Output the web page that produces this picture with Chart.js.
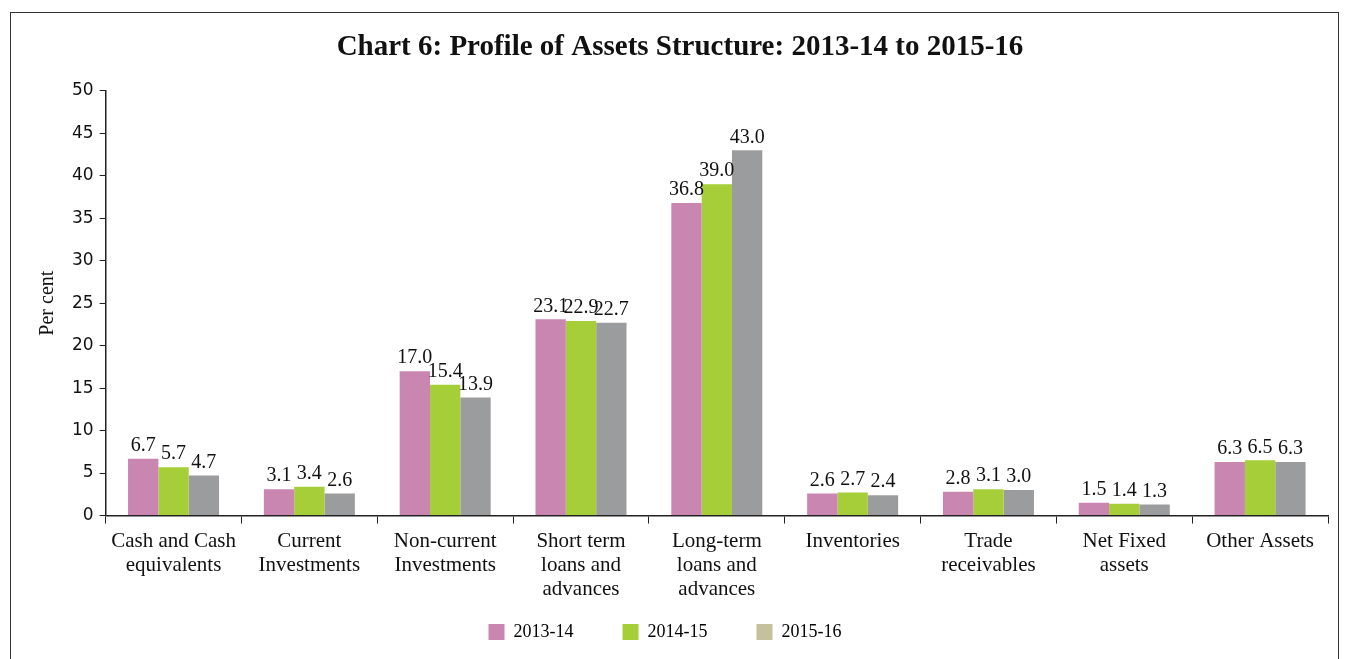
<!DOCTYPE html>
<html>
<head>
<meta charset="utf-8">
<script src="https://cdn.jsdelivr.net/npm/chart.js@4.4.1/dist/chart.umd.min.js"></script>
<style>
  html, body { margin: 0; padding: 0; background: #fff; }
  body { width: 1348px; height: 659px; overflow: hidden; position: relative; }
  .frame {
    position: absolute; left: 10px; top: 12px; width: 1329px; height: 660px;
    border: 1.5px solid #333; box-sizing: border-box;
  }
  #wrap { position: absolute; left: 0; top: 0; width: 1348px; height: 659px; }
</style>
</head>
<body>
<div class="frame"></div>
<div id="wrap"><canvas id="chart"></canvas></div>
<script>
// Categories and series
const categories = [
    ['Cash and Cash', 'equivalents'],
    ['Current', 'Investments'],
    ['Non-current', 'Investments'],
    ['Short term', 'loans and', 'advances'],
    ['Long-term', 'loans and', 'advances'],
    ['Inventories'],
    ['Trade', 'receivables'],
    ['Net Fixed', 'assets'],
    ['Other Assets']
];
const seriesNames = ['2013-14', '2014-15', '2015-16'];
const values2013 = [6.7, 3.1, 17.0, 23.1, 36.8, 2.6, 2.8, 1.5, 6.3];
const values2014 = [5.7, 3.4, 15.4, 22.9, 39.0, 2.7, 3.1, 1.4, 6.5];
const values2015 = [4.7, 2.6, 13.9, 22.7, 43.0, 2.4, 3.0, 1.3, 6.3];
const barColors = ['#C886B0', '#A6CE39', '#9B9C9E'];
const legendColors = ['#C886B0', '#A6CE39', '#C4C19C'];

const serif = '"Liberation Serif", "DejaVu Serif", serif';
const sans = '"DejaVu Sans", "Liberation Sans", sans-serif';

// Draw the value above each bar
const valueLabels = {
    id: 'valueLabels',
    afterDatasetsDraw(chart) {
        const ctx = chart.ctx;
        ctx.save();
        ctx.font = '20px ' + serif;
        ctx.fillStyle = '#111';
        ctx.textAlign = 'center';
        ctx.textBaseline = 'bottom';
        chart.data.datasets.forEach((ds, i) => {
            chart.getDatasetMeta(i).data.forEach((bar, j) => {
                ctx.fillText(ds.data[j].toFixed(1), bar.x, bar.y - 3);
            });
        });
        ctx.restore();
    }
};

// Let the category labels hang below their (shortened) box, nudge the legend left
const layoutTweaks = {
    id: 'layoutTweaks',
    afterLayout(chart) {
        chart.scales.x.bottom = chart.height;
        chart.legend.left -= 15;
        chart.legend.right -= 15;
    }
};

new Chart(document.getElementById('chart'), {
    type: 'bar',
    data: {
        labels: categories,
        datasets: [values2013, values2014, values2015].map((d, i) => ({
            label: seriesNames[i],
            data: d,
            backgroundColor: barColors[i],
            borderWidth: 0,
            categoryPercentage: 0.67,
            barPercentage: 1.0
        }))
    },
    options: {
        responsive: true,
        maintainAspectRatio: false,
        animation: false,
        layout: { padding: { left: 32, right: 20, top: 14, bottom: 8 } },
        plugins: {
            title: {
                display: true,
                text: 'Chart 6: Profile of Assets Structure: 2013-14 to 2015-16',
                font: { family: serif, size: 29, weight: 'bold' },
                color: '#111',
                padding: { top: 16, bottom: 26 }
            },
            legend: {
                position: 'bottom',
                labels: {
                    font: { family: serif, size: 18 },
                    color: '#111',
                    boxWidth: 16,
                    boxHeight: 16,
                    padding: 49,
                    generateLabels: (chart) => seriesNames.map((name, i) => ({
                        text: name,
                        fillStyle: legendColors[i],
                        strokeStyle: legendColors[i],
                        lineWidth: 0,
                        datasetIndex: i
                    }))
                }
            },
            tooltip: { enabled: false }
        },
        scales: {
            x: {
                afterFit: (scale) => { scale.height -= 34; },
                grid: {
                    offset: true,
                    drawOnChartArea: false,
                    drawTicks: true,
                    tickLength: 8,
                    color: '#222'
                },
                border: { color: '#222', width: 1.5 },
                ticks: {
                    font: { family: serif, size: 21, lineHeight: 1.15 },
                    color: '#111',
                    maxRotation: 0,
                    autoSkip: false,
                    padding: 6
                }
            },
            y: {
                min: 0,
                max: 50,
                ticks: {
                    stepSize: 5,
                    font: { family: sans, size: 17 },
                    color: '#111',
                    padding: 6
                },
                grid: {
                    drawOnChartArea: false,
                    drawTicks: true,
                    tickLength: 6,
                    color: '#222'
                },
                border: { color: '#222', width: 1.5 },
                title: {
                    display: true,
                    text: 'Per cent',
                    font: { family: serif, size: 20 },
                    color: '#111',
                    padding: { bottom: 6 }
                }
            }
        }
    },
    plugins: [valueLabels, layoutTweaks]
});
</script>
</body>
</html>
